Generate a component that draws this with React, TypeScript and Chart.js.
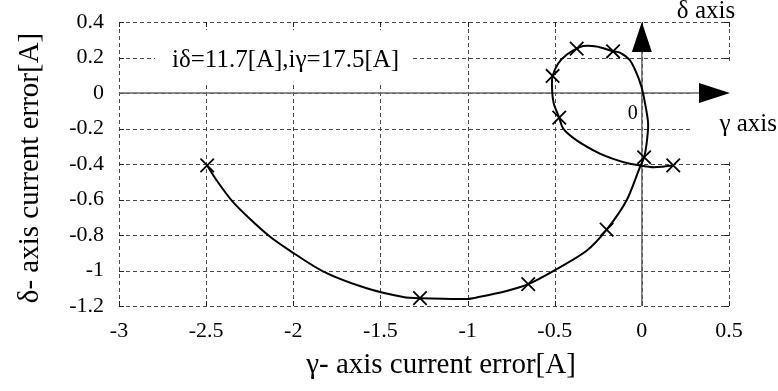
import React, { useEffect, useRef } from "react";
import { Chart, registerables } from "chart.js";

Chart.register(...registerables);

const FONT = "'Liberation Serif', 'Times New Roman', Times, serif";

// Current-error trajectory in the γ-δ frame [A], in drawing order
const gammaPath = [
  -2.494, -2.439, -2.353, -2.248, -2.133, -2.018, -1.827, -1.579, -1.369, -1.273,
  -1.0, -0.948, -0.776, -0.652, -0.489, -0.317, -0.202, -0.088, -0.011, 0.013,
  0.027, 0.036, 0.017, -0.002, -0.03, -0.069, -0.126, -0.165, -0.26, -0.337,
  -0.374, -0.432, -0.48, -0.512, -0.515, -0.505, -0.474, -0.451, -0.374, -0.241,
  -0.165, -0.069, -0.011, 0.065, 0.12, 0.18,
];
const deltaPath = [
  -0.408, -0.493, -0.606, -0.71, -0.81, -0.889, -1.006, -1.1, -1.149, -1.156,
  -1.16, -1.152, -1.115, -1.077, -0.992, -0.889, -0.77, -0.606, -0.418, -0.362,
  -0.286, -0.173, -0.051, 0.034, 0.11, 0.185, 0.228, 0.235, 0.262, 0.265,
  0.25, 0.215, 0.166, 0.096, 0.02, -0.06, -0.139, -0.201, -0.267, -0.342,
  -0.371, -0.399, -0.408, -0.418, -0.415, -0.408,
];

// Sampled instants marked with crosses
const gammaMarks = [-2.494, -1.273, -0.652, -0.202, 0.013, 0.18, -0.474, -0.512, -0.374, -0.165];
const deltaMarks = [-0.408, -1.156, -1.077, -0.77, -0.362, -0.408, -0.139, 0.096, 0.25, 0.235];

const xTicks = [-3, -2.5, -2, -1.5, -1, -0.5, 0, 0.5];
const xTickLabels = ["-3", "-2.5", "-2", "-1.5", "-1", "-0.5", "0", "0.5"];
const yTicks = [0.4, 0.2, 0, -0.2, -0.4, -0.6, -0.8, -1, -1.2];
const yTickLabels = ["0.4", "0.2", "0", "-0.2", "-0.4", "-0.6", "-0.8", "-1", "-1.2"];

const xTitle = "γ- axis current error[A]";
const yTitle = "δ- axis current error[A]";
const conditionText = "iδ=11.7[A],iγ=17.5[A]";
const gammaAxisText = "γ axis";
const deltaAxisText = "δ axis";
const originText = "0";

// Dashed grid, solid γ/δ axes with arrowheads, frame ticks and labels
const axesOverlay = {
  id: "axesOverlay",
  beforeDatasetsDraw(chart: any) {
    const { ctx, chartArea: a, scales } = chart;
    const x = scales.x;
    const y = scales.y;
    const x0 = x.getPixelForValue(0);
    const y0 = y.getPixelForValue(0);
    ctx.save();

    // dashed grid, frame included
    ctx.strokeStyle = "#4a4a4a";
    ctx.lineWidth = 1;
    ctx.setLineDash([4, 3]);
    ctx.beginPath();
    xTicks.forEach((v) => {
      const px = Math.round(x.getPixelForValue(v)) + 0.5;
      ctx.moveTo(px, a.top);
      ctx.lineTo(px, a.bottom);
    });
    yTicks.forEach((v) => {
      const py = Math.round(y.getPixelForValue(v)) + 0.5;
      ctx.moveTo(a.left, py);
      ctx.lineTo(a.right, py);
    });
    ctx.stroke();
    ctx.setLineDash([]);

    // short inward ticks on the frame
    ctx.strokeStyle = "#222";
    ctx.beginPath();
    xTicks.forEach((v) => {
      const px = Math.round(x.getPixelForValue(v)) + 0.5;
      ctx.moveTo(px, a.bottom);
      ctx.lineTo(px, a.bottom - 5);
      ctx.moveTo(px, a.top);
      ctx.lineTo(px, a.top + 5);
    });
    yTicks.forEach((v) => {
      const py = Math.round(y.getPixelForValue(v)) + 0.5;
      ctx.moveTo(a.left, py);
      ctx.lineTo(a.left + 5, py);
      ctx.moveTo(a.right, py);
      ctx.lineTo(a.right - 5, py);
    });
    ctx.stroke();

    // white backdrops behind the free-standing labels
    ctx.fillStyle = "#fff";
    ctx.fillRect(a.left + 36, a.top + 8, 256, 52);
    ctx.fillRect(a.right - 37, y0 - 30, 60, 96);

    // γ and δ axes
    ctx.strokeStyle = "#6a6a6a";
    ctx.lineWidth = 1.5;
    ctx.beginPath();
    ctx.moveTo(a.left, y0);
    ctx.lineTo(a.right - 28, y0);
    ctx.moveTo(x0, a.bottom);
    ctx.lineTo(x0, a.top + 28);
    ctx.stroke();

    ctx.fillStyle = "#000";
    ctx.beginPath();
    ctx.moveTo(a.right + 1, y0);
    ctx.lineTo(a.right - 30, y0 - 10);
    ctx.lineTo(a.right - 30, y0 + 10);
    ctx.closePath();
    ctx.fill();
    ctx.beginPath();
    ctx.moveTo(x0, a.top);
    ctx.lineTo(x0 - 10, a.top + 30);
    ctx.lineTo(x0 + 10, a.top + 30);
    ctx.closePath();
    ctx.fill();
    ctx.restore();
  },
  afterDraw(chart: any) {
    const { ctx, chartArea: a, scales } = chart;
    const x0 = scales.x.getPixelForValue(0);
    const y0 = scales.y.getPixelForValue(0);
    ctx.save();
    ctx.fillStyle = "#000";
    ctx.textBaseline = "alphabetic";

    ctx.font = `25px ${FONT}`;
    ctx.textAlign = "left";
    ctx.fillText(conditionText, a.left + 53, a.top + 45);

    ctx.font = `20px ${FONT}`;
    ctx.textAlign = "center";
    ctx.fillText(originText, x0 - 9, y0 + 26);

    ctx.font = `25px ${FONT}`;
    ctx.textAlign = "right";
    ctx.fillText(gammaAxisText, 777, y0 + 38);
    ctx.textAlign = "left";
    ctx.fillText(deltaAxisText, x0 + 35, a.top - 4);

    // axis titles
    ctx.font = `29px ${FONT}`;
    ctx.textAlign = "center";
    ctx.textBaseline = "middle";
    ctx.fillText(xTitle, 441, 365);
    ctx.translate(30, 168);
    ctx.rotate(-Math.PI / 2);
    ctx.fillText(yTitle, 0, 0);
    ctx.restore();
  },
};

export default function App() {
  const canvasRef = useRef<HTMLCanvasElement | null>(null);

  useEffect(() => {
    const canvas = canvasRef.current;
    if (!canvas) return;

    const path = gammaPath.map((g, i) => ({ x: g, y: deltaPath[i] }));
    const marks = gammaMarks.map((g, i) => ({ x: g, y: deltaMarks[i] }));

    const tickFont = { family: FONT, size: 22 };

    const chart = new Chart(canvas, {
      type: "scatter",
      data: {
        datasets: [
          {
            data: path,
            showLine: true,
            borderColor: "#000",
            borderWidth: 2,
            pointRadius: 0,
            tension: 0.3,
          },
          {
            data: marks,
            showLine: false,
            pointStyle: "crossRot",
            pointRadius: 9.5,
            pointBorderWidth: 1.8,
            borderColor: "#000",
            backgroundColor: "#000",
          },
        ],
      },
      options: {
        animation: false,
        responsive: false,
        devicePixelRatio: 1,
        layout: { padding: { top: 22, right: 49, left: 0, bottom: 0 } },
        plugins: {
          legend: { display: false },
          tooltip: { enabled: false },
        },
        scales: {
          x: {
            type: "linear",
            min: -3,
            max: 0.5,
            afterBuildTicks: (s: any) => {
              s.ticks = xTicks.map((v) => ({ value: v }));
            },
            afterFit: (s: any) => {
              s.height = 85;
              s.paddingLeft = 0;
              s.paddingRight = 0;
            },
            ticks: {
              color: "#000",
              font: tickFont,
              padding: 12,
              maxRotation: 0,
              autoSkip: false,
              callback: (_v: any, i: number) => xTickLabels[i],
            },
            grid: { display: false, drawTicks: false },
            border: { display: false },
            title: { display: false },
          },
          y: {
            type: "linear",
            min: -1.2,
            max: 0.4,
            afterBuildTicks: (s: any) => {
              s.ticks = yTicks.map((v) => ({ value: v }));
            },
            afterFit: (s: any) => {
              s.width = 119;
              s.paddingTop = 0;
              s.paddingBottom = 0;
            },
            ticks: {
              color: "#000",
              font: tickFont,
              padding: 15,
              autoSkip: false,
              callback: (_v: any, i: number) => yTickLabels[i],
            },
            grid: { display: false, drawTicks: false },
            border: { display: false },
            title: { display: false },
          },
        },
      },
      plugins: [axesOverlay],
    } as any);

    return () => chart.destroy();
  }, []);

  return (
    <div style={{ position: "fixed", left: 0, top: 0, width: 778, height: 391, background: "#fff" }}>
      <canvas ref={canvasRef} width={778} height={391} style={{ display: "block" }} />
    </div>
  );
}
